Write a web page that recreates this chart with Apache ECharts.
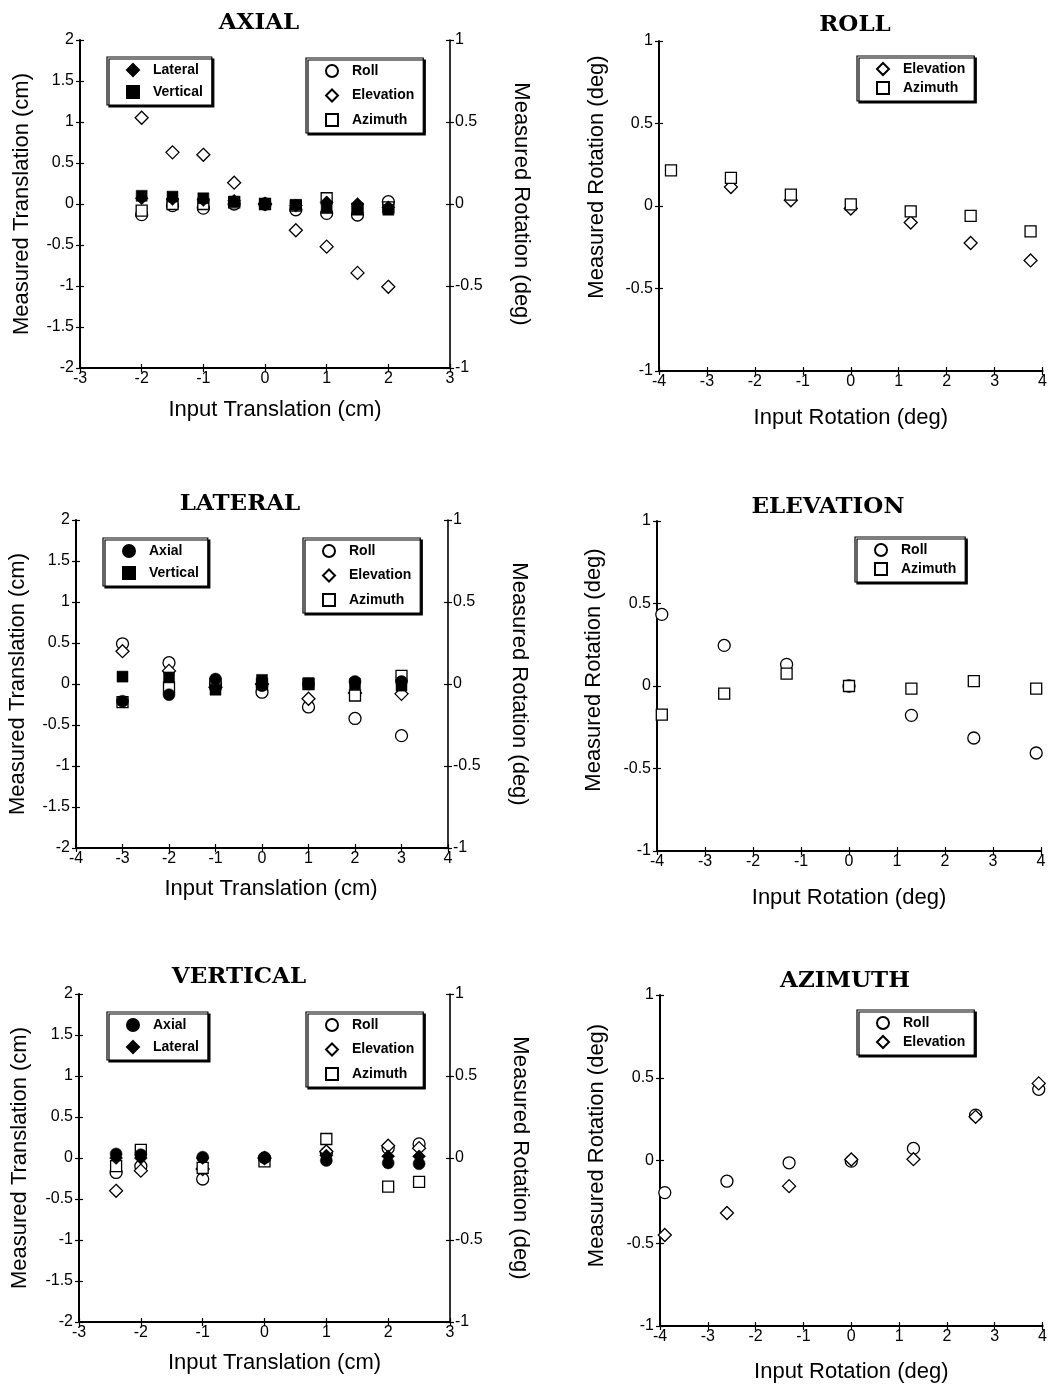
<!DOCTYPE html>
<html><head><meta charset="utf-8">
<script src="https://cdn.jsdelivr.net/npm/echarts@6/dist/echarts.min.js"></script>
<style>html,body{margin:0;padding:0;background:#fff}#c{width:1050px;height:1386px}</style>
</head><body><div id="c"></div>
<script>
// ---------- DATA ----------
// AXIAL panel (input translation, cm)
const axialX = [-2, -1.5, -1, -0.5, 0, 0.5, 1, 1.5, 2];
const axialLateral   = [0.07, 0.06, 0.05, 0.04, 0.0, -0.02, 0.02, 0.0, -0.04];   // cm
const axialVertical  = [0.10, 0.09, 0.07, 0.03, 0.0, -0.01, -0.05, -0.07, -0.07]; // cm
const axialRoll      = [-0.065, -0.01, -0.025, 0.0, 0.0, -0.035, -0.057, -0.067, 0.014]; // deg
const axialElevation = [0.526, 0.315, 0.30, 0.13, 0.0, -0.16, -0.26, -0.42, -0.505];    // deg
const axialAzimuth   = [-0.04, 0.0, 0.0, 0.01, 0.0, -0.01, 0.035, -0.03, -0.02];         // deg

// LATERAL panel
const lateralX = [-3, -2, -1, 0, 1, 2, 3];
const lateralAxial     = [-0.21, -0.13, 0.06, -0.02, 0.0, 0.03, 0.03];
const lateralVertical  = [0.09, 0.08, -0.07, 0.05, 0.01, 0.0, -0.02];
const lateralRoll      = [0.245, 0.13, 0.0, -0.05, -0.14, -0.21, -0.315];
const lateralElevation = [0.20, 0.08, -0.02, 0.0, -0.09, -0.055, -0.06];
const lateralAzimuth   = [-0.11, -0.02, 0.0, 0.0, 0.0, -0.07, 0.05];

// VERTICAL panel
const verticalX = [-2.4, -2, -1, 0, 1, 2, 2.5];
const verticalAxial     = [0.05, 0.04, 0.01, 0.0, -0.03, -0.06, -0.07];
const verticalLateral   = [0.0, 0.0, 0.0, -0.01, 0.03, 0.02, 0.02];
const verticalRoll      = [-0.088, -0.05, -0.128, 0.0, 0.03, 0.06, 0.086];
const verticalElevation = [-0.20, -0.077, -0.067, 0.0, 0.04, 0.075, 0.06];
const verticalAzimuth   = [-0.05, 0.05, -0.06, -0.02, 0.116, -0.175, -0.145];

// ROLL panel (input rotation, deg)
const rollX = [-3.75, -2.5, -1.25, 0, 1.25, 2.5, 3.75];
const rollElevation = [null, 0.115, 0.035, -0.015, -0.10, -0.224, -0.33];
const rollAzimuth   = [0.216, 0.17, 0.069, 0.01, -0.032, -0.06, -0.154];

// ELEVATION panel
const elevX = [-3.9, -2.6, -1.3, 0, 1.3, 2.6, 3.9];
const elevRoll    = [0.434, 0.246, 0.131, 0.0, -0.178, -0.315, -0.406];
const elevAzimuth = [-0.174, -0.046, 0.075, 0.0, -0.016, 0.03, -0.016];

// AZIMUTH panel
const azimX = [-3.9, -2.6, -1.3, 0, 1.3, 2.6, 3.92];
const azimRoll      = [-0.194, -0.125, -0.014, -0.004, 0.073, 0.274, 0.43];
const azimElevation = [-0.45, -0.317, -0.155, 0.006, 0.008, 0.264, 0.466];

// tick settings
const transTicks = {min: -2, max: 2, interval: 0.5};
const rotTicks   = {min: -1, max: 1, interval: 0.5};

// ---------- STYLE ----------
const SANS = "'Liberation Sans', Arial, Helvetica, sans-serif";
const SERIF = "'DejaVu Serif', 'Liberation Serif', serif";
const MARK = {
  Axial:     {symbol: 'circle',  filled: true,  size: 12},
  Lateral:   {symbol: 'diamond', filled: true,  size: 13},
  Vertical:  {symbol: 'rect',    filled: true,  size: 11},
  Roll:      {symbol: 'circle',  filled: false, size: 12},
  Elevation: {symbol: 'diamond', filled: false, size: 13},
  Azimuth:   {symbol: 'rect',    filled: false, size: 11}
};

const panels = [
  {title: 'AXIAL', tx: 254, ty: 7, grid: {left: 80, top: 40, width: 370, height: 328},
   xMin: -3, xMax: 3, yT: transTicks, right: true,
   xName: 'Input Translation (cm)', xGap: 31, xShift: 20,
   yName: 'Measured Translation (cm)', yGap: 47, yShift: 0, rName: 'Measured Rotation (deg)', rGap: 60,
   series: [
     ['Roll', axialX, axialRoll, 'R'], ['Elevation', axialX, axialElevation, 'R'], ['Azimuth', axialX, axialAzimuth, 'R'],
     ['Lateral', axialX, axialLateral, 'L'], ['Vertical', axialX, axialVertical, 'L']],
   legends: [{left: 107, top: 57, names: ['Lateral', 'Vertical'], gap: 8},
             {left: 306, top: 58, names: ['Roll', 'Elevation', 'Azimuth'], gap: 10.5}]},
  {title: 'ROLL', tx: 850, ty: 9, grid: {left: 659, top: 41, width: 384, height: 330},
   xMin: -4, xMax: 4, yT: rotTicks, right: false,
   xName: 'Input Rotation (deg)', xGap: 36, xShift: 0,
   yName: 'Measured Rotation (deg)', yGap: 51, yShift: 58,
   series: [['Elevation', rollX, rollElevation, 'L'], ['Azimuth', rollX, rollAzimuth, 'L']],
   legends: [{left: 857, top: 56, names: ['Elevation', 'Azimuth'], gap: 5}]},
  {title: 'LATERAL', tx: 235, ty: 488, grid: {left: 76, top: 520, width: 372, height: 328},
   xMin: -4, xMax: 4, yT: transTicks, right: true,
   xName: 'Input Translation (cm)', xGap: 30, xShift: 18,
   yName: 'Measured Translation (cm)', yGap: 47, yShift: 0, rName: 'Measured Rotation (deg)', rGap: 60,
   series: [
     ['Roll', lateralX, lateralRoll, 'R'], ['Elevation', lateralX, lateralElevation, 'R'], ['Azimuth', lateralX, lateralAzimuth, 'R'],
     ['Axial', lateralX, lateralAxial, 'L'], ['Vertical', lateralX, lateralVertical, 'L']],
   legends: [{left: 103, top: 538, names: ['Axial', 'Vertical'], gap: 8},
             {left: 303, top: 538, names: ['Roll', 'Elevation', 'Azimuth'], gap: 10.5}]},
  {title: 'ELEVATION', tx: 823, ty: 491, grid: {left: 657, top: 521, width: 384, height: 330},
   xMin: -4, xMax: 4, yT: rotTicks, right: false,
   xName: 'Input Rotation (deg)', xGap: 36, xShift: 0,
   yName: 'Measured Rotation (deg)', yGap: 52, yShift: 32,
   series: [['Roll', elevX, elevRoll, 'L'], ['Azimuth', elevX, elevAzimuth, 'L']],
   legends: [{left: 855, top: 537, names: ['Roll', 'Azimuth'], gap: 5}]},
  {title: 'VERTICAL', tx: 234, ty: 961, grid: {left: 79, top: 994, width: 371, height: 328},
   xMin: -3, xMax: 3, yT: transTicks, right: true,
   xName: 'Input Translation (cm)', xGap: 30, xShift: 20,
   yName: 'Measured Translation (cm)', yGap: 48, yShift: 0, rName: 'Measured Rotation (deg)', rGap: 59,
   series: [
     ['Roll', verticalX, verticalRoll, 'R'], ['Elevation', verticalX, verticalElevation, 'R'], ['Azimuth', verticalX, verticalAzimuth, 'R'],
     ['Axial', verticalX, verticalAxial, 'L'], ['Lateral', verticalX, verticalLateral, 'L']],
   legends: [{left: 107, top: 1012, names: ['Axial', 'Lateral'], gap: 8},
             {left: 306, top: 1012, names: ['Roll', 'Elevation', 'Azimuth'], gap: 10.5}]},
  {title: 'AZIMUTH', tx: 840, ty: 965, grid: {left: 660, top: 995, width: 383, height: 331},
   xMin: -4, xMax: 4, yT: rotTicks, right: false,
   xName: 'Input Rotation (deg)', xGap: 35, xShift: 0,
   yName: 'Measured Rotation (deg)', yGap: 52, yShift: 30,
   series: [['Roll', azimX, azimRoll, 'L'], ['Elevation', azimX, azimElevation, 'L']],
   legends: [{left: 857, top: 1010, names: ['Roll', 'Elevation'], gap: 5}]}
];

// ---------- BUILD ----------
const grids = [], xAxes = [], yAxes = [], seriesList = [], titles = [], legends = [];
const tickLen = 4;
function labelStyle() { return {color: '#000', fontFamily: SANS, fontSize: 16}; }
const NAMESIZE = 22;

panels.forEach((p, gi) => {
  grids.push(Object.assign({containLabel: false}, p.grid));
  titles.push({text: p.title, left: p.tx, top: p.ty, textAlign: 'center',
    textStyle: {fontFamily: SERIF, fontWeight: 'bold', fontSize: 23, color: '#000'}});
  const xi = xAxes.length;
  xAxes.push({type: 'value', gridIndex: gi, min: p.xMin, max: p.xMax, interval: 1, position: 'bottom',
    axisLine: {show: true, onZero: false, lineStyle: {color: '#000', width: 2}},
    axisTick: {show: true, inside: false, length: tickLen, lineStyle: {color: '#000', width: 1.2}},
    axisLabel: Object.assign({margin: 3}, labelStyle()), splitLine: {show: false},
    name: p.xName, nameLocation: 'middle', nameGap: p.xGap,
    nameTextStyle: {color: '#000', fontFamily: SANS, fontSize: NAMESIZE, padding: [0, 0, 0, p.xShift]}});
  xAxes.push({type: 'value', gridIndex: gi, min: p.xMin, max: p.xMax, interval: 1, position: 'bottom',
    axisLine: {show: false, onZero: false}, axisTick: {show: true, inside: true, length: tickLen, lineStyle: {color: '#000', width: 1.2}},
    axisLabel: {show: false}, splitLine: {show: false}});
  const yl = yAxes.length;
  yAxes.push({type: 'value', gridIndex: gi, min: p.yT.min, max: p.yT.max, interval: p.yT.interval, position: 'left',
    axisLine: {show: true, onZero: false, lineStyle: {color: '#000', width: 2}},
    axisTick: {show: true, inside: false, length: tickLen, lineStyle: {color: '#000', width: 1.2}},
    axisLabel: Object.assign({margin: 6}, labelStyle()), splitLine: {show: false},
    name: p.yName, nameLocation: 'middle', nameGap: p.yGap, nameRotate: 90,
    nameTextStyle: {color: '#000', fontFamily: SANS, fontSize: NAMESIZE, padding: [0, 0, 0, p.yShift]}});
  yAxes.push({type: 'value', gridIndex: gi, min: p.yT.min, max: p.yT.max, interval: p.yT.interval, position: 'left',
    axisLine: {show: false, onZero: false}, axisTick: {show: true, inside: true, length: tickLen, lineStyle: {color: '#000', width: 1.2}},
    axisLabel: {show: false}, splitLine: {show: false}});
  let yr = yl;
  if (p.right) {
    yr = yAxes.length;
    yAxes.push({type: 'value', gridIndex: gi, min: rotTicks.min, max: rotTicks.max, interval: rotTicks.interval, position: 'right',
      axisLine: {show: true, onZero: false, lineStyle: {color: '#000', width: 1.6}},
      axisTick: {show: true, inside: false, length: tickLen, lineStyle: {color: '#000', width: 1.2}},
      axisLabel: Object.assign({margin: 5}, labelStyle()), splitLine: {show: false},
      name: p.rName, nameLocation: 'middle', nameGap: p.rGap, nameRotate: -90,
      nameTextStyle: {color: '#000', fontFamily: SANS, fontSize: NAMESIZE}});
    yAxes.push({type: 'value', gridIndex: gi, min: rotTicks.min, max: rotTicks.max, interval: rotTicks.interval, position: 'right',
      axisLine: {show: false, onZero: false}, axisTick: {show: true, inside: true, length: tickLen, lineStyle: {color: '#000', width: 1.2}},
      axisLabel: {show: false}, splitLine: {show: false}});
  }
  p.series.forEach(([name, xs, ys, side]) => {
    const m = MARK[name];
    const data = [];
    xs.forEach((x, k) => { if (ys[k] !== null && ys[k] !== undefined) data.push([x, ys[k]]); });
    seriesList.push({type: 'scatter', name, xAxisIndex: xi, yAxisIndex: side === 'R' ? yr : yl,
      symbol: m.symbol, symbolSize: m.size, data, z: m.filled ? 3 : 2,
      itemStyle: m.filled ? {color: '#000', borderColor: '#000', borderWidth: 0.5, opacity: 1}
                          : {color: '#fff', borderColor: '#000', borderWidth: 1.3, opacity: 1},
      emphasis: {disabled: true}});
  });
  p.legends.forEach(l => {
    legends.push({orient: 'vertical', left: l.left, top: l.top, data: l.names, itemGap: l.gap,
      itemWidth: 12, itemHeight: 12, selectedMode: false, padding: [6, 9, 6, 19],
      backgroundColor: '#fff', borderColor: '#000', borderWidth: 1.2, borderRadius: 0,
      shadowColor: '#000', shadowBlur: 0, shadowOffsetX: 2, shadowOffsetY: 2,
      textStyle: {color: '#000', fontFamily: SANS, fontWeight: 'bold', fontSize: 14, lineHeight: 12, padding: [0, 0, 0, 9]}});
  });
});

const chart = echarts.init(document.getElementById('c'), null, {renderer: 'canvas'});
chart.setOption({
  backgroundColor: '#fff', animation: false,
  title: titles, legend: legends, grid: grids, xAxis: xAxes, yAxis: yAxes, series: seriesList
});
</script></body></html>
